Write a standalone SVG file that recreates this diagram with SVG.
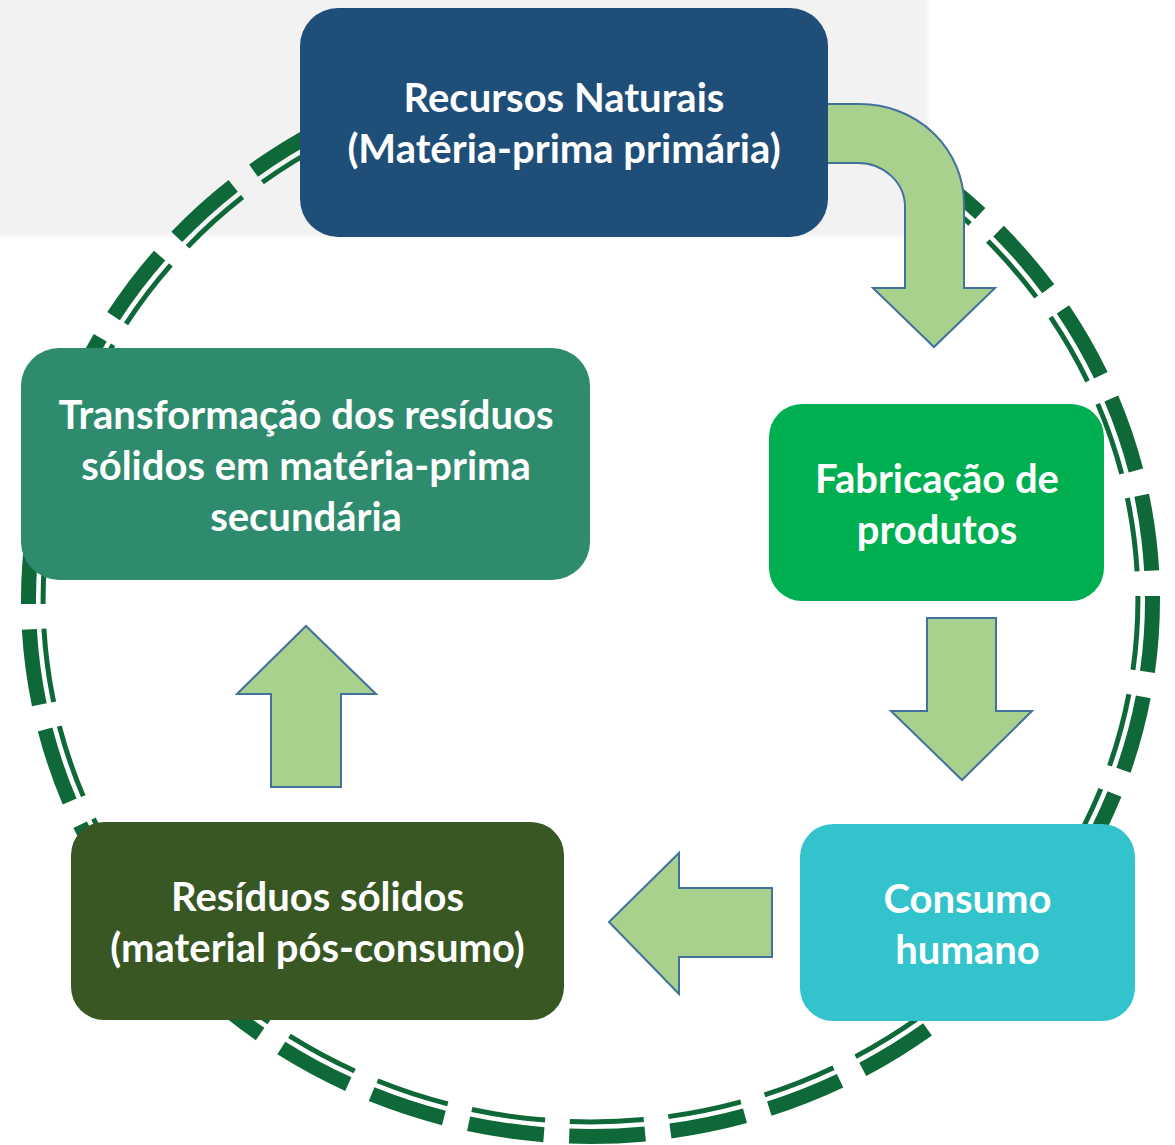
<svg xmlns="http://www.w3.org/2000/svg" width="1175" height="1145" viewBox="0 0 1175 1145">
  <defs>
    <filter id="soft" x="-5%" y="-5%" width="110%" height="110%">
      <feGaussianBlur stdDeviation="2"/>
    </filter>
  </defs>
  <style>
    .lbl { font-family: Lato, "Open Sans", "Liberation Sans", sans-serif; font-weight: 700; font-size: 40px; fill: #ffffff; text-anchor: middle; }
    .arrow { fill: #a9d18e; stroke: #41719c; stroke-width: 2; stroke-linejoin: miter; }
    .ring { fill: none; stroke: #0e6838; stroke-dasharray: 7.5 2.5; stroke-dashoffset: 0.4; }
  </style>
  <rect x="-10" y="-10" width="938" height="246" fill="#f2f2f2" filter="url(#soft)"/>
  <g id="cycle-ring">
    <ellipse class="ring" cx="590.5" cy="600" rx="562" ry="536.5" stroke-width="15" pathLength="340"/>
    <ellipse class="ring" cx="590.5" cy="600" rx="547.4" ry="521.9" stroke-width="5" pathLength="340"/>
  </g>
  <g id="connectors">
    <path class="arrow" d="M 820 104 L 860 104 A 104 100 0 0 1 964 204 L 964 288 L 995 288 L 934 347 L 873 288 L 905 288 L 905 207 A 47 44 0 0 0 858 163 L 820 163 Z"/>
    <path class="arrow" d="M 927 618 L 996 618 L 996 711 L 1032 711 L 962 780 L 891 711 L 927 711 Z"/>
    <path class="arrow" d="M 772 888 L 772 957 L 679 957 L 679 994 L 609 922 L 679 853 L 679 888 Z"/>
    <path class="arrow" d="M 271 787 L 271 694 L 237 694 L 306 626 L 376 694 L 341 694 L 341 787 Z"/>
  </g>
  <g id="recursos-naturais">
    <rect x="300" y="8" width="528" height="229" rx="38" ry="38" fill="#1f4e79"/>
    <text class="lbl" x="564" y="112">Recursos Naturais</text>
    <text class="lbl" x="564" y="163">(Matéria-prima primária)</text>
  </g>
  <g id="fabricacao">
    <rect x="769" y="404" width="335" height="197" rx="33" ry="33" fill="#00b050"/>
    <text class="lbl" x="937" y="493">Fabricação de</text>
    <text class="lbl" x="937" y="544">produtos</text>
  </g>
  <g id="consumo">
    <rect x="800" y="824" width="335" height="197" rx="33" ry="33" fill="#33c3cc"/>
    <text class="lbl" x="967.5" y="913">Consumo</text>
    <text class="lbl" x="967.5" y="964">humano</text>
  </g>
  <g id="residuos">
    <rect x="71" y="822" width="493" height="198" rx="33" ry="33" fill="#385723"/>
    <text class="lbl" x="317.5" y="911">Resíduos sólidos</text>
    <text class="lbl" x="317.5" y="962">(material pós-consumo)</text>
  </g>
  <g id="transformacao">
    <rect x="21" y="348" width="569" height="232" rx="38" ry="38" fill="#2e8b6e"/>
    <text class="lbl" x="306" y="429">Transformação dos resíduos</text>
    <text class="lbl" x="306" y="480">sólidos em matéria-prima</text>
    <text class="lbl" x="306" y="531">secundária</text>
  </g>
</svg>
